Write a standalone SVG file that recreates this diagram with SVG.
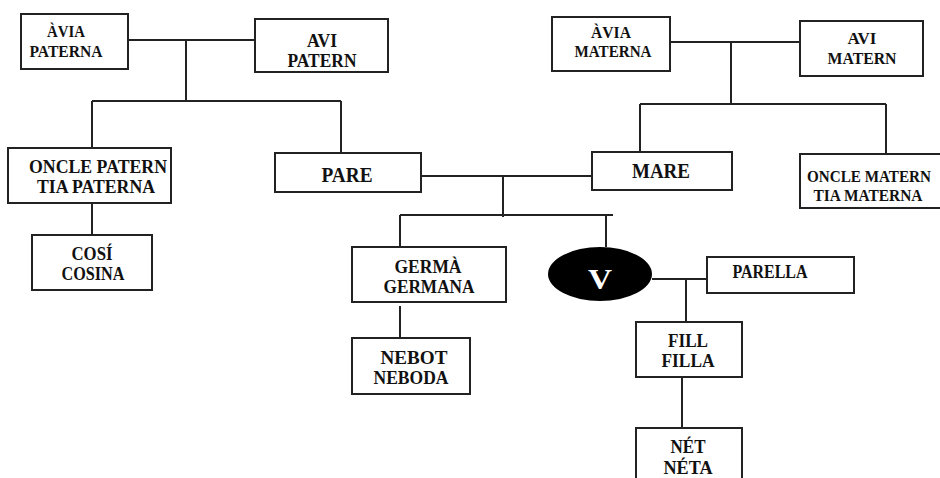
<svg xmlns="http://www.w3.org/2000/svg" width="940" height="478" viewBox="0 0 940 478">
<style>
.box{fill:#fff;stroke:#222;stroke-width:2}
.ln{fill:none;stroke:#222;stroke-width:2}
text{font-family:'Liberation Serif','Times New Roman',serif;font-weight:bold;fill:#111;text-anchor:middle;font-size:18px}
.b{font-size:20px}
.m{font-size:17px}
</style>
<rect width="940" height="478" fill="#fff"/>
<g id="connectors" class="ln">
<path d="M128 40H255M186 40V101M92 101H341M92 101V148M341 101V153M92 203V235"/>
<path d="M670 42H800M731 42V104M640 104H886M640 104V152M886 104V154"/>
<path d="M421 176H592M503 176V217M400 215H613M400 215V247M606 215V247M400 306V338"/>
<path d="M652 279H707M686 279V322M682 377V428"/>
</g>
<g id="avia-paterna"><rect class="box" x="21" y="14" width="107" height="55"/><text class="m" x="66" y="37" textLength="38" lengthAdjust="spacingAndGlyphs">ÀVIA</text><text class="m" x="66" y="57" textLength="73" lengthAdjust="spacingAndGlyphs">PATERNA</text></g>
<g id="avi-patern"><rect class="box" x="255" y="19" width="133" height="53"/><text x="322" y="47" textLength="30" lengthAdjust="spacingAndGlyphs">AVI</text><text x="322" y="67" textLength="69" lengthAdjust="spacingAndGlyphs">PATERN</text></g>
<g id="avia-materna"><rect class="box" x="552" y="17" width="118" height="54"/><text class="m" x="611" y="38" textLength="40" lengthAdjust="spacingAndGlyphs">ÀVIA</text><text class="m" x="613" y="57" textLength="77" lengthAdjust="spacingAndGlyphs">MATERNA</text></g>
<g id="avi-matern"><rect class="box" x="800" y="21" width="123" height="55"/><text class="m" x="862" y="44" textLength="29" lengthAdjust="spacingAndGlyphs">AVI</text><text class="m" x="862" y="64" textLength="69" lengthAdjust="spacingAndGlyphs">MATERN</text></g>
<g id="oncle-patern"><rect class="box" x="8" y="148" width="163" height="55"/><text x="98" y="173" textLength="138" lengthAdjust="spacingAndGlyphs">ONCLE PATERN</text><text x="96" y="193" textLength="118" lengthAdjust="spacingAndGlyphs">TIA PATERNA</text></g>
<g id="cosi"><rect class="box" x="32" y="235" width="120" height="55"/><text x="92" y="260" textLength="41" lengthAdjust="spacingAndGlyphs">COSÍ</text><text x="93" y="280" textLength="63" lengthAdjust="spacingAndGlyphs">COSINA</text></g>
<g id="pare"><rect class="box" x="275" y="153" width="146" height="39"/><text class="b" x="347" y="182" textLength="51" lengthAdjust="spacingAndGlyphs">PARE</text></g>
<g id="mare"><rect class="box" x="592" y="152" width="140" height="38"/><text class="b" x="661" y="178" textLength="58" lengthAdjust="spacingAndGlyphs">MARE</text></g>
<g id="oncle-matern"><rect class="box" x="800" y="154" width="150" height="54"/><text class="m" x="869" y="182" textLength="124" lengthAdjust="spacingAndGlyphs">ONCLE MATERN</text><text class="m" x="868" y="201" textLength="109" lengthAdjust="spacingAndGlyphs">TIA MATERNA</text></g>
<g id="germa"><rect class="box" x="352" y="247" width="154" height="55"/><text x="428" y="273" textLength="67" lengthAdjust="spacingAndGlyphs">GERMÀ</text><text x="429" y="293" textLength="91" lengthAdjust="spacingAndGlyphs">GERMANA</text></g>
<g id="nebot"><rect class="box" x="352" y="338" width="118" height="56"/><text x="414" y="364" textLength="67" lengthAdjust="spacingAndGlyphs">NEBOT</text><text x="411" y="384" textLength="75" lengthAdjust="spacingAndGlyphs">NEBODA</text></g>
<g id="v"><ellipse cx="600" cy="274" rx="52" ry="27" fill="#000"/><text x="600" y="289" textLength="24" lengthAdjust="spacingAndGlyphs" style="font-size:30px;fill:#fff">V</text></g>
<g id="parella"><rect class="box" x="707" y="257" width="147" height="36"/><text x="770" y="278" textLength="75" lengthAdjust="spacingAndGlyphs">PARELLA</text></g>
<g id="fill"><rect class="box" x="636" y="322" width="106" height="55"/><text x="688" y="347" textLength="40" lengthAdjust="spacingAndGlyphs">FILL</text><text x="688" y="367" textLength="53" lengthAdjust="spacingAndGlyphs">FILLA</text></g>
<g id="net"><rect class="box" x="636" y="428" width="106" height="60"/><text x="688" y="453" textLength="35" lengthAdjust="spacingAndGlyphs">NÉT</text><text x="688" y="474" textLength="49" lengthAdjust="spacingAndGlyphs">NÉTA</text></g>
</svg>
